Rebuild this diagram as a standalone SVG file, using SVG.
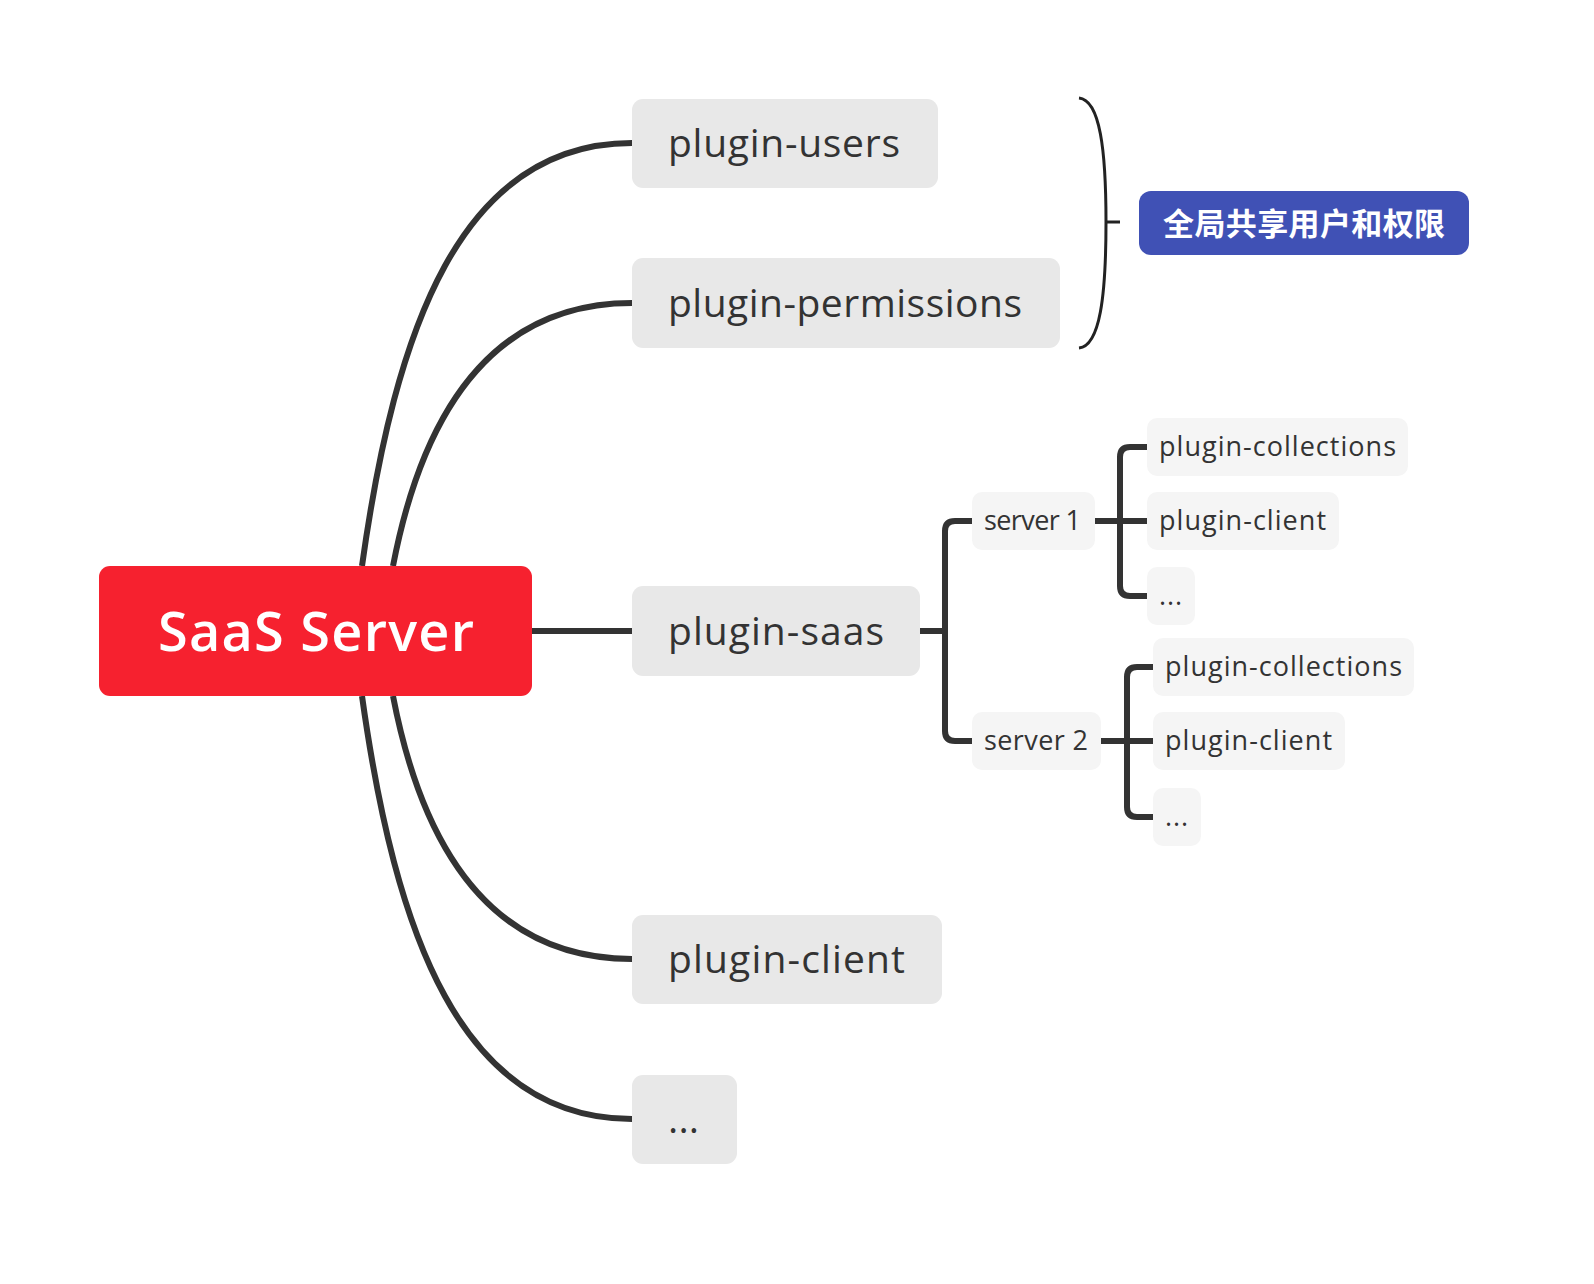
<svg xmlns="http://www.w3.org/2000/svg" width="1594" height="1284" viewBox="0 0 1594 1284">
<style>
.main{fill:#E8E8E8}
.sub{fill:#F5F5F5}
.t1{font-family:"Open Sans",Lato,sans-serif;font-size:39px;fill:#333333}
.t2{font-family:"Open Sans",Lato,sans-serif;font-size:27px;fill:#333333}
.c{fill:none;stroke:#333333;stroke-width:6;stroke-linecap:butt}
</style>
<rect width="1594" height="1284" fill="#FFFFFF"/>
<g id="connectors">
<path class="c" d="M362,566 C395,330 460,143 632,143"/>
<path class="c" d="M393,566 C425,400 500,303 632,303"/>
<path class="c" d="M532,631 H632"/>
<path class="c" d="M393,696 C425,862 500,959 632,959"/>
<path class="c" d="M362,696 C395,932 460,1119 632,1119"/>
<path class="c" d="M920,631 H945 M972,521 H955 Q945,521 945,531 V731 Q945,741 955,741 H972"/>
<path class="c" d="M1095,521 H1147 M1147,447 H1130 Q1120,447 1120,457 V586 Q1120,596 1130,596 H1147"/>
<path class="c" d="M1101,741 H1153 M1153,667 H1137 Q1127,667 1127,677 V807 Q1127,817 1137,817 H1153"/>
<path d="M1079,98 C1100,100 1106,150 1106,222 C1106,296 1100,346 1079,348 M1106,222 H1120" fill="none" stroke="#222222" stroke-width="3"/>
</g>
<g id="root">
<rect x="99" y="566" width="433" height="130" rx="11" fill="#F6212F"/>
<text x="158" y="651" textLength="316" font-family="'Open Sans',Lato,sans-serif" font-size="54" font-weight="600" fill="#FFFFFF">SaaS Server</text>
</g>
<g id="plugin-users">
<rect class="main" x="632" y="99" width="306" height="89" rx="11"/>
<text class="t1" x="668" y="157" textLength="232">plugin-users</text>
</g>
<g id="plugin-permissions">
<rect class="main" x="632" y="258" width="428" height="90" rx="11"/>
<text class="t1" x="668" y="317" textLength="354">plugin-permissions</text>
</g>
<g id="plugin-saas">
<rect class="main" x="632" y="586" width="288" height="90" rx="11"/>
<text class="t1" x="668" y="645" textLength="216">plugin-saas</text>
</g>
<g id="plugin-client">
<rect class="main" x="632" y="915" width="310" height="89" rx="11"/>
<text class="t1" x="668" y="973" textLength="237">plugin-client</text>
</g>
<g id="more">
<rect class="main" x="632" y="1075" width="105" height="89" rx="11"/>
<text class="t1" x="668" y="1133" textLength="31">...</text>
</g>
<g id="server1">
<rect class="sub" x="972" y="492" width="123" height="58" rx="10"/>
<text class="t2" x="984" y="530" textLength="97">server 1</text>
</g>
<g id="server2">
<rect class="sub" x="972" y="712" width="129" height="58" rx="10"/>
<text class="t2" x="984" y="750" textLength="104">server 2</text>
</g>
<g id="s1-collections">
<rect class="sub" x="1147" y="418" width="261" height="58" rx="10"/>
<text class="t2" x="1159" y="456" textLength="237">plugin-collections</text>
</g>
<g id="s1-client">
<rect class="sub" x="1147" y="492" width="192" height="58" rx="10"/>
<text class="t2" x="1159" y="530" textLength="167">plugin-client</text>
</g>
<g id="s1-more">
<rect class="sub" x="1147" y="567" width="48" height="58" rx="10"/>
<text class="t2" x="1159" y="605" textLength="23">...</text>
</g>
<g id="s2-collections">
<rect class="sub" x="1153" y="638" width="261" height="58" rx="10"/>
<text class="t2" x="1165" y="676" textLength="237">plugin-collections</text>
</g>
<g id="s2-client">
<rect class="sub" x="1153" y="712" width="192" height="58" rx="10"/>
<text class="t2" x="1165" y="750" textLength="167">plugin-client</text>
</g>
<g id="s2-more">
<rect class="sub" x="1153" y="788" width="48" height="58" rx="10"/>
<text class="t2" x="1165" y="826" textLength="23">...</text>
</g>
<g id="summary">
<rect x="1139" y="191" width="330" height="64" rx="12" fill="#4051B5"/>
<text x="1163" y="235" textLength="282" font-family="'Noto Sans CJK SC',sans-serif" font-size="31" font-weight="bold" fill="#FFFFFF">全局共享用户和权限</text>
</g>
</svg>
